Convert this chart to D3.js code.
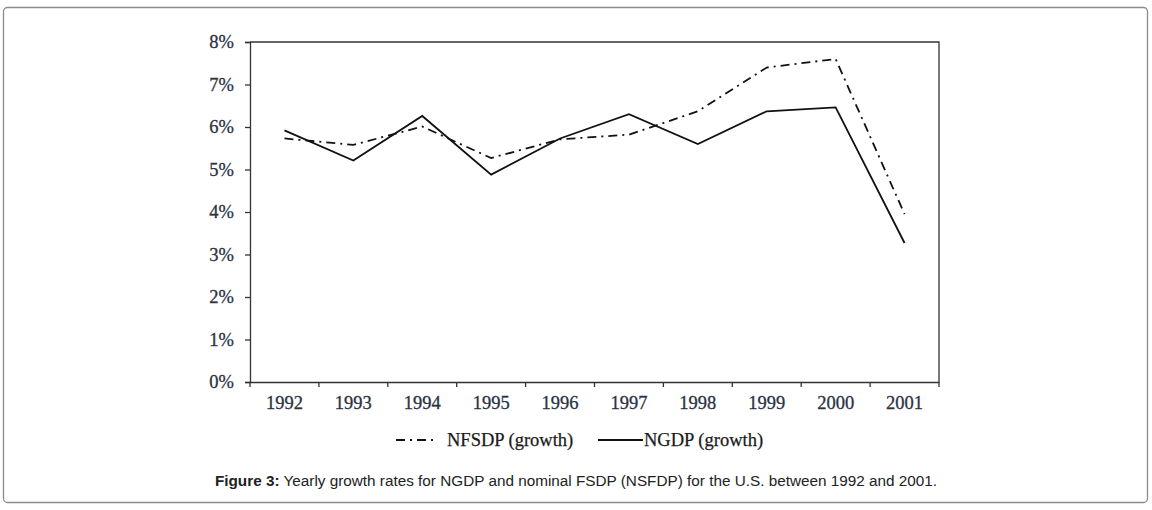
<!DOCTYPE html>
<html>
<head>
<meta charset="utf-8">
<script src="https://cdn.jsdelivr.net/npm/d3@7"></script>
<style>
  body { margin: 0; background: #fff; }
  svg { display: block; }
</style>
</head>
<body>
<svg id="chart" width="1152" height="510"></svg>
<script>
const years = ["1992", "1993", "1994", "1995", "1996", "1997", "1998", "1999", "2000", "2001"];
const nfsdp = [5.73, 5.58, 6.01, 5.27, 5.71, 5.82, 6.37, 7.40, 7.60, 3.95];
const ngdp = [5.92, 5.21, 6.26, 4.88, 5.73, 6.30, 5.60, 6.37, 6.46, 3.27];
const yTicks = [0, 1, 2, 3, 4, 5, 6, 7, 8];

const svg = d3.select("#chart");
const margin = {left: 250, right: 213, top: 42, bottom: 128};
const w = 1152 - margin.left - margin.right;
const h = 510 - margin.top - margin.bottom;
const serif = "Liberation Serif, DejaVu Serif, serif";

// outer frame
svg.append("rect")
  .attr("x", 3.5).attr("y", 7.5)
  .attr("width", 1144).attr("height", 495)
  .attr("rx", 4)
  .attr("fill", "none")
  .attr("stroke", "#8c8c8c")
  .attr("stroke-width", 1.3);

const g = svg.append("g").attr("transform", `translate(${margin.left},${margin.top})`);

const x = d3.scaleBand().domain(years).range([0, w]);
const y = d3.scaleLinear().domain([0, 8]).range([h, 0]);

// box (top + right)
g.append("path")
  .attr("d", `M0,0H${w}V${h}`)
  .attr("fill", "none")
  .attr("stroke", "#333")
  .attr("stroke-width", 1.3);

const yAxis = g.append("g")
  .call(d3.axisLeft(y).tickValues(yTicks).tickSize(5).tickPadding(11).tickFormat(d => d + "%"));
yAxis.select(".domain").attr("stroke", "#333").attr("stroke-width", 1.3);
yAxis.selectAll(".tick line").attr("stroke", "#333").attr("stroke-width", 1.3);
yAxis.selectAll("text")
  .attr("font-family", serif)
  .attr("font-size", 18.5)
  .attr("fill", "#2b3242")
  .attr("stroke", "#2b3242")
  .attr("stroke-width", 0.3);

const xAxis = g.append("g")
  .attr("transform", `translate(0,${h})`)
  .call(d3.axisBottom(x).tickSize(0).tickPadding(14));
xAxis.select(".domain").attr("stroke", "#333").attr("stroke-width", 1.3);
xAxis.selectAll("text")
  .attr("font-family", serif)
  .attr("font-size", 18.5)
  .attr("fill", "#2b3242")
  .attr("stroke", "#2b3242")
  .attr("stroke-width", 0.3);

// x ticks between categories
const bounds = years.map(d => x(d)).concat([w]);
g.append("g").selectAll("line")
  .data(bounds)
  .join("line")
  .attr("x1", d => d).attr("x2", d => d)
  .attr("y1", h).attr("y2", h + 5)
  .attr("stroke", "#333")
  .attr("stroke-width", 1.3);

const line = d3.line()
  .x((d, i) => x(years[i]) + x.bandwidth() / 2)
  .y(d => y(d));

const dashPattern = "9,5,2,5";

g.append("path")
  .datum(nfsdp)
  .attr("d", line)
  .attr("fill", "none")
  .attr("stroke", "#111")
  .attr("stroke-width", 1.8)
  .attr("stroke-dasharray", dashPattern);

g.append("path")
  .datum(ngdp)
  .attr("d", line)
  .attr("fill", "none")
  .attr("stroke", "#111")
  .attr("stroke-width", 1.8);

// legend
const legend = svg.append("g");
const legendItems = [
  {label: "NFSDP (growth)", dash: dashPattern, x1: 396, x2: 436, tx: 447},
  {label: "NGDP (growth)", dash: null, x1: 598, x2: 643, tx: 644}
];
legendItems.forEach(it => {
  legend.append("line")
    .attr("x1", it.x1).attr("x2", it.x2)
    .attr("y1", 440).attr("y2", 440)
    .attr("stroke", "#111")
    .attr("stroke-width", 1.8)
    .attr("stroke-dasharray", it.dash);
  legend.append("text")
    .attr("x", it.tx).attr("y", 446)
    .attr("font-family", serif)
    .attr("font-size", 18.5)
    .attr("fill", "#1a1a1a")
    .attr("stroke", "#1a1a1a")
    .attr("stroke-width", 0.25)
    .text(it.label);
});

// caption
const cap = svg.append("text")
  .attr("x", 576).attr("y", 486)
  .attr("text-anchor", "middle")
  .attr("font-family", "Liberation Sans, Arial, sans-serif")
  .attr("font-size", 15.3)
  .attr("fill", "#222");
cap.append("tspan").attr("font-weight", "bold").text("Figure 3:");
cap.append("tspan").text(" Yearly growth rates for NGDP and nominal FSDP (NSFDP) for the U.S. between 1992 and 2001.");
</script>
</body>
</html>
